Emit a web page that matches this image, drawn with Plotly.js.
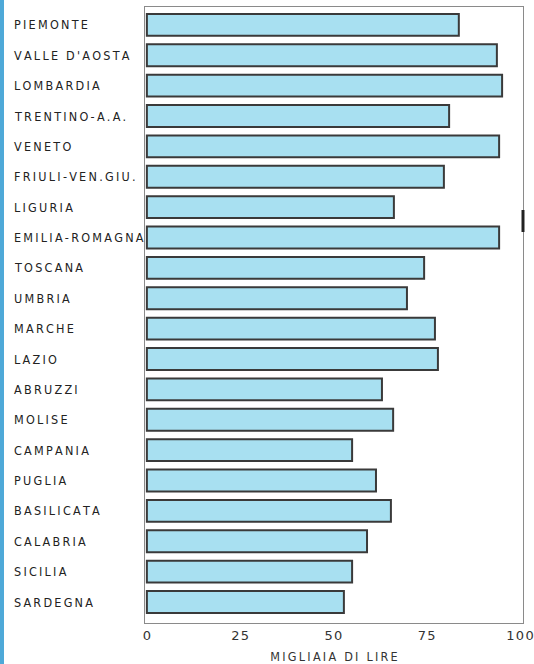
<!DOCTYPE html>
<html>
<head>
<meta charset="utf-8">
<script src="https://cdn.plot.ly/plotly-3.0.1.min.js"></script>
<style>
  html, body { margin: 0; padding: 0; background: #ffffff; }
  #chart { width: 534px; height: 664px; }
</style>
</head>
<body>
<div id="chart"></div>
<script>
const regions = [
  "PIEMONTE", "VALLE D'AOSTA", "LOMBARDIA", "TRENTINO-A.A.", "VENETO",
  "FRIULI-VEN.GIU.", "LIGURIA", "EMILIA-ROMAGNA", "TOSCANA", "UMBRIA",
  "MARCHE", "LAZIO", "ABRUZZI", "MOLISE", "CAMPANIA",
  "PUGLIA", "BASILICATA", "CALABRIA", "SICILIA", "SARDEGNA"
];
const values = [
  83.6, 93.8, 95.2, 81.0, 94.4,
  79.6, 66.2, 94.4, 74.3, 69.7,
  77.2, 78.0, 63.0, 66.0, 55.0,
  61.4, 65.4, 59.0, 55.0, 52.8
];
const xTicks = [0, 25, 50, 75, 100];
const xTitle = "MIGLIAIA DI LIRE";

const spaced = (s, sp) => s.split("").join(sp || "\u2009");
const labelFont = { family: "DejaVu Sans Condensed, DejaVu Sans, sans-serif", size: 12.5, color: "#222222" };

const trace = {
  type: "bar",
  orientation: "h",
  y: regions,
  x: values,
  width: 0.72,
  marker: {
    color: "#a8e0f1",
    line: { color: "#3a3a3a", width: 2 }
  },
  hoverinfo: "x+y"
};

const annotations = regions.map(r => ({
  xref: "paper", yref: "y",
  x: 0, y: r,
  xshift: -133,
  xanchor: "left", yanchor: "middle",
  text: spaced(r),
  showarrow: false,
  font: labelFont
}));

const layout = {
  width: 534, height: 664,
  margin: { l: 145, r: 11, t: 7, b: 41 },
  paper_bgcolor: "#ffffff",
  plot_bgcolor: "#ffffff",
  showlegend: false,
  bargap: 0.28,
  xaxis: {
    range: [-0.5, 100.8],
    tickvals: xTicks,
    ticktext: xTicks.map(v => spaced(String(v), "\u200A")),
    showgrid: false,
    zeroline: false,
    showline: true,
    mirror: true,
    linecolor: "#8a8a8a",
    linewidth: 1,
    ticks: "",
    tickfont: { family: "DejaVu Sans, sans-serif", size: 13, color: "#333333" },
    title: { text: spaced(xTitle), font: { family: "DejaVu Sans Condensed, DejaVu Sans, sans-serif", size: 12.5, color: "#333333" }, standoff: 10 }
  },
  yaxis: {
    type: "category",
    categoryorder: "array",
    categoryarray: regions,
    range: [19.69, -0.59],
    showticklabels: false,
    showgrid: false,
    zeroline: false,
    showline: true,
    mirror: true,
    linecolor: "#8a8a8a",
    linewidth: 1,
    ticks: ""
  },
  annotations: annotations,
  shapes: [
    { type: "rect", xref: "paper", yref: "paper", x0: -145/378, x1: -141/378, y0: -41/616, y1: 623/616,
      fillcolor: "#4ea9d8", line: { width: 0 }, layer: "above" },
    { type: "line", xref: "paper", yref: "paper", x0: 1.0, x1: 1.0, y0: (623-232)/616, y1: (623-210)/616,
      line: { color: "#222222", width: 3 } }
  ]
};

Plotly.newPlot("chart", [trace], layout, { displayModeBar: false, staticPlot: true });
</script>
</body>
</html>
